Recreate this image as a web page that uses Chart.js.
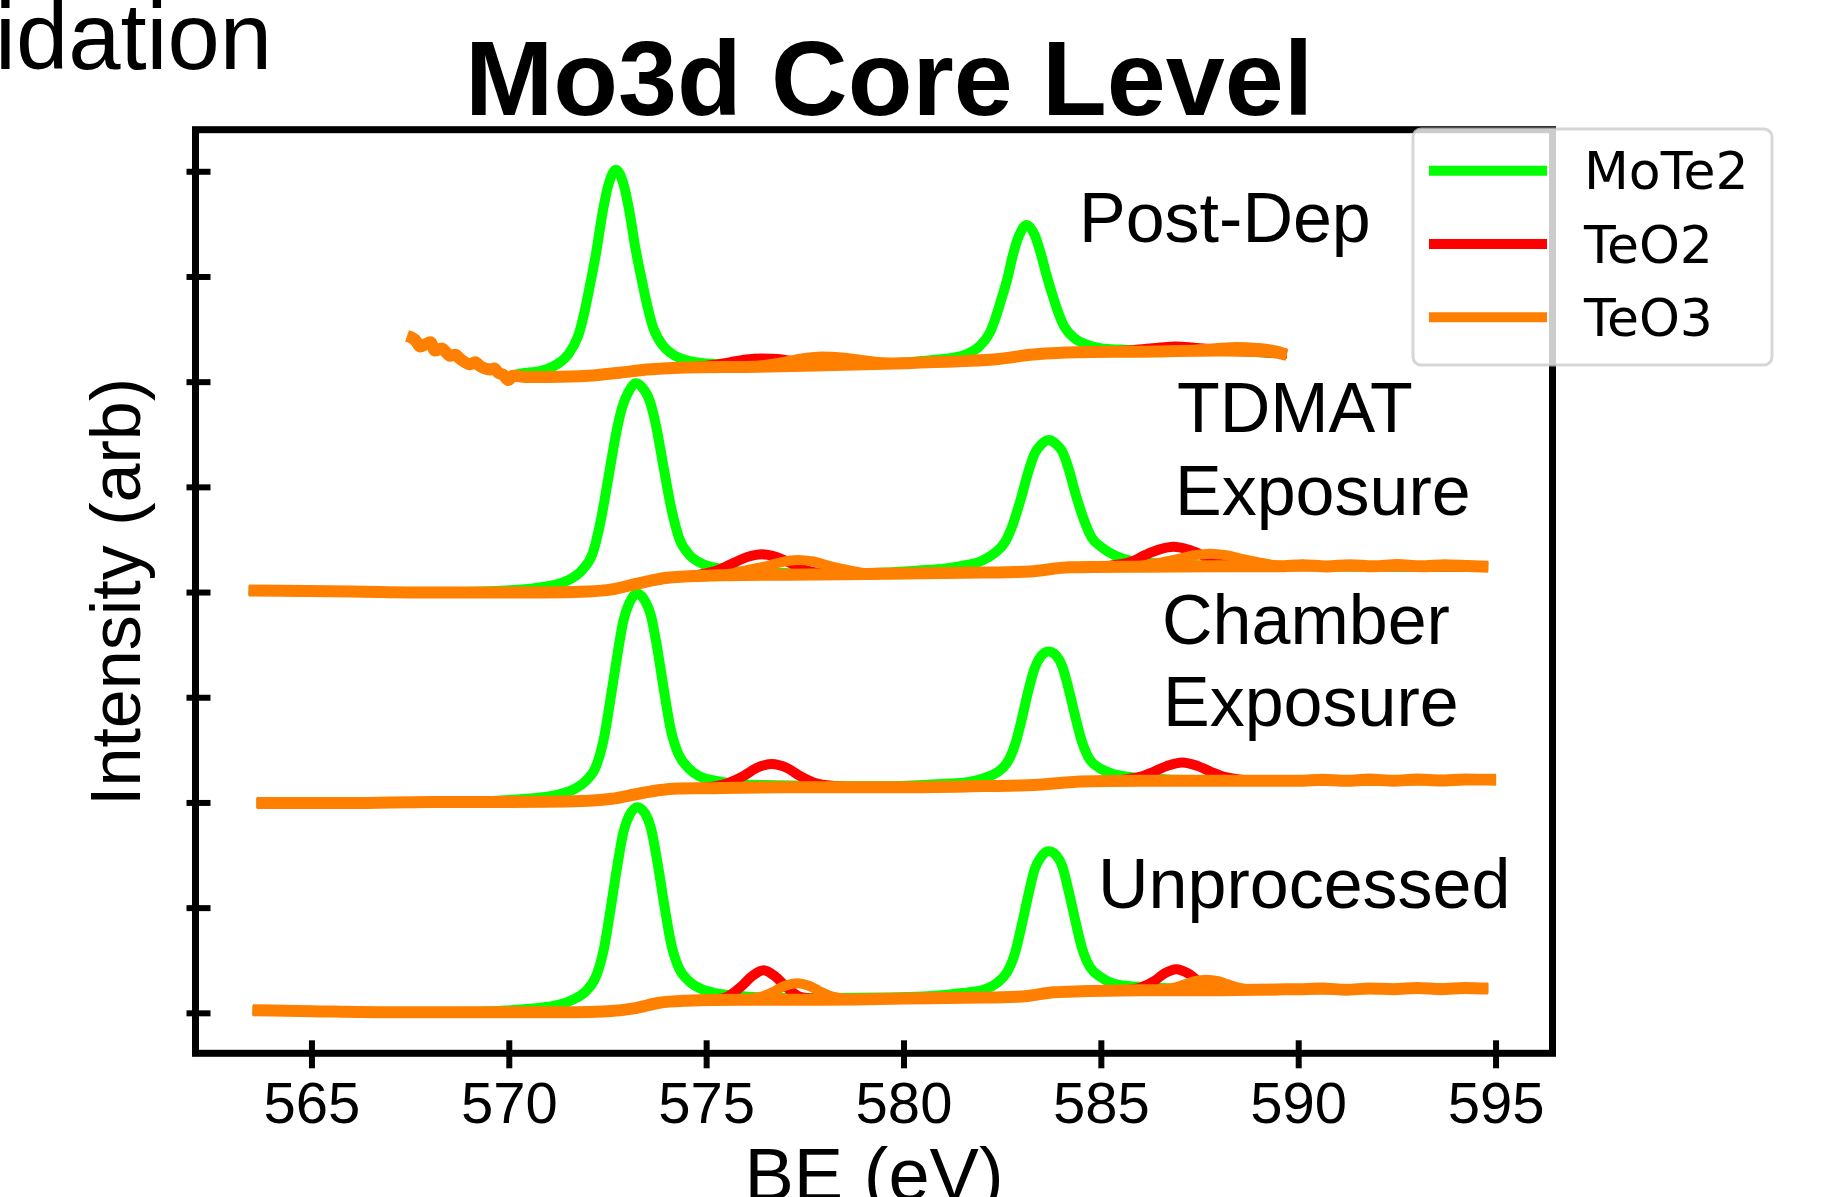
<!DOCTYPE html>
<html>
<head>
<meta charset="utf-8">
<script src="https://cdn.jsdelivr.net/npm/chart.js@4.4.1/dist/chart.umd.min.js"></script>
<style>
html,body{margin:0;padding:0;background:#ffffff;overflow:hidden}
canvas{display:block}
</style>
</head>
<body>
<canvas id="c" width="1825" height="1197"></canvas>
<script>
// ---------------- DATA (BE in eV, intensity in stacked arbitrary units) ----------------
const xTicks = [565, 570, 575, 580, 585, 590, 595];
const yTicks = [0, 1, 2, 3, 4, 5, 6, 7, 8];
const legendLabels = ['MoTe2', 'TeO2', 'TeO3'];
const spectrumNames = ['Post-Dep', 'TDMAT Exposure', 'Chamber Exposure', 'Unprocessed'];

// Unprocessed (bottom trace)
const unprocBackground = [[563.5,0.03],[565,0.02],[567,0.01],[569,0.01],[571,0.01],[572.5,0.02],[573.2,0.05],[573.8,0.10],[574.5,0.12],[576,0.13],[578,0.13],[580,0.14],[582,0.15],[583,0.16],[583.8,0.20],[584.5,0.21],[586,0.22],[588,0.22],[590,0.23],[590.6,0.235],[591.2,0.225],[591.8,0.235],[592.4,0.23],[593,0.24],[593.6,0.23],[594.2,0.24],[594.8,0.235]];
const unprocMoTe2 = [[563.5,0.03],[567,0.01],[569.3,0.015],[570.04,0.03],[570.74,0.05],[571.24,0.08],[571.64,0.135],[571.94,0.21],[572.19,0.345],[572.39,0.60],[572.54,0.93],[572.74,1.41],[572.89,1.72],[573.04,1.88],[573.24,1.96],[573.44,1.90],[573.59,1.76],[573.74,1.465],[573.94,1.00],[574.09,0.68],[574.29,0.435],[574.54,0.31],[574.84,0.235],[575.24,0.19],[575.74,0.17],[576.44,0.15],[578,0.145],[579.5,0.15],[580.46,0.16],[581.16,0.18],[581.66,0.20],[582.06,0.23],[582.36,0.29],[582.61,0.39],[582.81,0.57],[582.96,0.80],[583.16,1.14],[583.31,1.37],[583.46,1.48],[583.66,1.54],[583.86,1.50],[584.01,1.40],[584.16,1.18],[584.36,0.85],[584.51,0.62],[584.71,0.44],[584.96,0.35],[585.26,0.29],[585.66,0.26],[586.16,0.25],[586.86,0.235],[588.5,0.225],[590,0.23],[594.8,0.235]];
const unprocTeO2 = [[563.5,0.03],[567,0.01],[571,0.01],[572.5,0.02],[573.2,0.05],[573.8,0.10],[574.5,0.12],[575.14,0.13],[575.54,0.16],[575.89,0.26],[576.14,0.35],[576.44,0.41],[576.74,0.35],[576.99,0.26],[577.34,0.16],[577.74,0.14],[578.5,0.13],[580,0.14],[582,0.15],[583,0.16],[583.8,0.20],[584.5,0.21],[585.6,0.22],[586.0,0.245],[586.35,0.31],[586.6,0.38],[586.9,0.42],[587.2,0.38],[587.45,0.31],[587.8,0.245],[588.2,0.225],[590,0.23],[594.8,0.235]];
const unprocTeO3 = [[563.5,0.03],[567,0.01],[571,0.01],[572.5,0.02],[573.2,0.05],[573.8,0.10],[574.5,0.12],[575.69,0.13],[576.09,0.138],[576.44,0.164],[576.74,0.215],[576.99,0.262],[577.29,0.285],[577.59,0.262],[577.84,0.215],[578.14,0.164],[578.49,0.138],[578.89,0.13],[580,0.14],[582,0.15],[583,0.16],[583.8,0.20],[584.5,0.21],[586.06,0.22],[586.46,0.225],[586.81,0.242],[587.11,0.275],[587.36,0.305],[587.66,0.32],[587.96,0.305],[588.21,0.275],[588.51,0.242],[588.86,0.225],[589.26,0.22],[590,0.23],[594.8,0.235]];

// Chamber Exposure
const chamberBackground = [[563.6,2.00],[566,2.00],[568,2.01],[570,2.01],[572,2.02],[572.6,2.04],[573.3,2.09],[574,2.13],[575,2.14],[577,2.15],[580,2.15],[582,2.16],[583.3,2.17],[584.3,2.20],[586,2.21],[588,2.21],[590,2.21],[590.6,2.22],[591.2,2.21],[591.8,2.222],[592.4,2.212],[593,2.222],[593.6,2.214],[594.2,2.224],[595,2.22]];
const chamberMoTe2 = [[563.6,2.00],[568,2.01],[569.3,2.015],[570.04,2.03],[570.74,2.05],[571.24,2.08],[571.64,2.13],[571.94,2.21],[572.19,2.34],[572.39,2.60],[572.54,2.93],[572.74,3.41],[572.89,3.73],[573.04,3.90],[573.24,3.99],[573.44,3.92],[573.59,3.78],[573.74,3.49],[573.94,3.02],[574.09,2.70],[574.29,2.46],[574.54,2.33],[574.84,2.25],[575.24,2.21],[575.74,2.18],[576.44,2.17],[578,2.16],[579.5,2.158],[580.46,2.17],[581.16,2.185],[581.66,2.20],[582.06,2.24],[582.36,2.29],[582.61,2.38],[582.81,2.55],[582.96,2.76],[583.16,3.08],[583.31,3.28],[583.46,3.39],[583.66,3.44],[583.86,3.40],[584.01,3.30],[584.16,3.10],[584.36,2.79],[584.51,2.58],[584.71,2.41],[584.96,2.33],[585.26,2.28],[585.66,2.25],[586.16,2.235],[586.86,2.22],[590,2.21],[595,2.22]];
const chamberTeO2 = [[563.6,2.00],[568,2.01],[572,2.02],[572.6,2.04],[573.3,2.09],[574,2.13],[574.55,2.14],[575.05,2.15],[575.55,2.19],[575.95,2.26],[576.25,2.33],[576.65,2.37],[577.05,2.33],[577.35,2.26],[577.75,2.19],[578.25,2.16],[578.75,2.15],[580,2.15],[582,2.16],[583.3,2.17],[584.3,2.20],[584.95,2.205],[585.45,2.217],[585.95,2.245],[586.35,2.30],[586.65,2.35],[587.05,2.385],[587.45,2.35],[587.75,2.30],[588.15,2.245],[588.65,2.217],[589.15,2.21],[592,2.215],[595,2.22]];
const chamberTeO3 = [[563.6,2.00],[568,2.01],[572,2.02],[572.6,2.04],[573.3,2.09],[574,2.13],[575,2.14],[577,2.15],[580,2.15],[582,2.16],[583.3,2.17],[584.3,2.20],[586,2.21],[590,2.21],[595,2.22]];

// TDMAT Exposure
const tdmatBackground = [[563.4,4.02],[566,4.01],[568,4.00],[570,4.00],[572,4.01],[572.6,4.03],[573.3,4.09],[574,4.14],[575,4.16],[577,4.17],[580,4.18],[582,4.19],[583.2,4.20],[584.2,4.24],[586,4.245],[588,4.25],[589.5,4.25],[590.1,4.26],[590.7,4.248],[591.3,4.26],[591.9,4.25],[592.5,4.262],[593.1,4.25],[593.7,4.26],[594.3,4.252],[594.8,4.245]];
const tdmatMoTe2 = [[563.4,4.02],[568,4.00],[569.91,4.02],[570.61,4.04],[571.11,4.07],[571.51,4.12],[571.86,4.22],[572.11,4.37],[572.31,4.67],[572.51,5.09],[572.71,5.52],[572.86,5.76],[573.01,5.90],[573.21,5.99],[573.41,5.93],[573.56,5.82],[573.71,5.60],[573.91,5.19],[574.11,4.79],[574.31,4.51],[574.56,4.36],[574.91,4.27],[575.31,4.23],[575.81,4.20],[576.51,4.19],[578,4.18],[579.5,4.19],[580.36,4.21],[581.06,4.23],[581.56,4.26],[581.96,4.30],[582.31,4.38],[582.56,4.48],[582.76,4.65],[582.96,4.89],[583.16,5.16],[583.31,5.32],[583.46,5.40],[583.66,5.45],[583.86,5.41],[584.01,5.34],[584.16,5.19],[584.36,4.92],[584.56,4.69],[584.76,4.52],[585.01,4.43],[585.36,4.35],[585.76,4.30],[586.26,4.28],[586.96,4.265],[590,4.25],[594.8,4.245]];
const tdmatTeO2 = [[563.4,4.02],[568,4.00],[572,4.01],[572.6,4.03],[573.3,4.09],[574.2,4.145],[574.8,4.17],[575.3,4.215],[575.7,4.285],[576.05,4.34],[576.4,4.365],[576.75,4.34],[577.1,4.285],[577.5,4.215],[578.0,4.18],[578.6,4.17],[580,4.18],[582,4.19],[583.2,4.20],[584.2,4.24],[584.63,4.245],[585.23,4.256],[585.73,4.29],[586.13,4.36],[586.48,4.41],[586.83,4.435],[587.18,4.41],[587.53,4.36],[587.93,4.29],[588.43,4.256],[589.03,4.25],[592,4.25],[594.8,4.245]];
const tdmatTeO3 = [[563.4,4.02],[568,4.00],[572,4.01],[572.6,4.03],[573.3,4.09],[574,4.14],[575.0,4.16],[575.6,4.18],[576.1,4.22],[576.5,4.25],[576.9,4.29],[577.3,4.31],[577.7,4.295],[578.1,4.255],[578.5,4.22],[579.0,4.185],[579.6,4.175],[582,4.19],[583.2,4.20],[584.2,4.24],[585.46,4.245],[586.06,4.257],[586.56,4.29],[586.96,4.32],[587.36,4.355],[587.76,4.37],[588.16,4.355],[588.56,4.32],[588.96,4.29],[589.46,4.257],[590.06,4.25],[592,4.25],[594.8,4.245]];

// Post-Dep (top trace)
const postBackground = [[567.41,6.44],[567.49,6.43],[567.62,6.40],[567.74,6.34],[567.88,6.36],[568.0,6.38],[568.12,6.30],[568.29,6.32],[568.5,6.25],[568.63,6.26],[568.76,6.22],[569.01,6.17],[569.14,6.19],[569.27,6.15],[569.52,6.12],[569.62,6.13],[569.72,6.09],[569.85,6.07],[569.97,6.02],[570.1,6.06],[570.4,6.05],[571,6.05],[572,6.06],[572.8,6.09],[573.5,6.12],[574.5,6.14],[576,6.145],[578,6.16],[580,6.18],[581.5,6.20],[582.4,6.22],[583.2,6.26],[584,6.28],[586,6.29],[588,6.30],[589.3,6.29],[589.7,6.26]];
const postMoTe2 = [[570.0,6.06],[570.3,6.083],[570.8,6.108],[571.2,6.168],[571.5,6.267],[571.75,6.444],[571.9,6.659],[572.05,6.933],[572.2,7.229],[572.35,7.583],[572.5,7.86],[572.7,8.02],[572.9,7.875],[573.05,7.608],[573.2,7.264],[573.35,6.983],[573.5,6.721],[573.65,6.513],[573.9,6.343],[574.2,6.251],[574.6,6.198],[575.1,6.175],[575.7,6.161],[577,6.155],[578.8,6.17],[580.11,6.19],[580.71,6.21],[581.21,6.23],[581.61,6.27],[581.91,6.34],[582.16,6.46],[582.31,6.60],[582.46,6.78],[582.61,6.97],[582.76,7.21],[582.91,7.39],[583.11,7.495],[583.31,7.40],[583.46,7.23],[583.61,7.02],[583.76,6.83],[583.91,6.66],[584.06,6.53],[584.31,6.42],[584.61,6.36],[585.01,6.32],[585.51,6.31],[586.11,6.30],[588,6.30],[589.7,6.27]];
const postTeO2 = [[570.1,6.05],[571,6.05],[572,6.06],[572.8,6.09],[573.5,6.12],[574.7,6.145],[575.2,6.165],[575.6,6.19],[576.0,6.215],[576.4,6.225],[576.8,6.22],[577.2,6.20],[577.6,6.18],[578.1,6.165],[580,6.18],[581.5,6.20],[582.4,6.22],[583.2,6.26],[584,6.28],[585.2,6.29],[585.7,6.30],[586.1,6.315],[586.5,6.33],[586.88,6.34],[587.3,6.33],[587.7,6.315],[588.1,6.30],[588.6,6.295],[589.7,6.27]];
const postTeO3 = [[570.1,6.05],[571,6.05],[572,6.06],[572.8,6.09],[573.5,6.12],[574.5,6.14],[575.82,6.145],[576.42,6.162],[576.92,6.19],[577.42,6.226],[577.92,6.245],[578.42,6.235],[578.92,6.212],[579.42,6.19],[580.02,6.18],[581.5,6.20],[582.4,6.22],[583.2,6.26],[584,6.28],[586.34,6.29],[586.94,6.295],[587.44,6.31],[587.94,6.325],[588.44,6.335],[588.94,6.325],[589.44,6.30],[589.7,6.27]];

// ---------------- STYLE ----------------
const COLOR = { MoTe2: '#00ff00', TeO2: '#ff0000', TeO3: '#ff8000' };

function series(data, color, width, order) {
  return { data: data, borderColor: color, backgroundColor: color, borderWidth: width,
           order: order, fill: false, pointRadius: 0, pointHoverRadius: 0,
           cubicInterpolationMode: 'monotone', borderJoinStyle: 'round', borderCapStyle: 'butt' };
}

const datasets = [];
[[unprocMoTe2, unprocTeO2, unprocTeO3, unprocBackground],
 [chamberMoTe2, chamberTeO2, chamberTeO3, chamberBackground],
 [tdmatMoTe2, tdmatTeO2, tdmatTeO3, tdmatBackground],
 [postMoTe2, postTeO2, postTeO3, postBackground]].forEach(function (s) {
  datasets.push(series(s[0], COLOR.MoTe2, 10, 3));
  datasets.push(series(s[1], COLOR.TeO2, 10, 2));
  datasets.push(series(s[2], COLOR.TeO3, 10, 1));
  datasets.push(series(s[3], COLOR.TeO3, 12, 0));
});

function line(ctx, x1, y1, x2, y2) { ctx.beginPath(); ctx.moveTo(x1, y1); ctx.lineTo(x2, y2); ctx.stroke(); }

const decor = {
  id: 'decor',
  afterDatasetsDraw(chart) {
    const ctx = chart.ctx, a = chart.chartArea, sx = chart.scales.x, sy = chart.scales.y;
    ctx.save();
    ctx.strokeStyle = '#000'; ctx.lineWidth = 7; ctx.lineJoin = 'miter';
    ctx.strokeRect(a.left, a.top, a.right - a.left, a.bottom - a.top);
    ctx.lineWidth = 6; ctx.lineCap = 'butt';
    sy.ticks.forEach(t => { const p = sy.getPixelForValue(t.value); line(ctx, a.left - 9, p, a.left + 15, p); });
    sx.ticks.forEach(t => { const p = sx.getPixelForValue(t.value); line(ctx, p, a.bottom - 13, p, a.bottom + 15); });
    ctx.restore();
  },
  afterDraw(chart) {
    const ctx = chart.ctx;
    ctx.save();
    ctx.fillStyle = '#000';
    ctx.textBaseline = 'alphabetic';
    ctx.textAlign = 'left';
    ctx.font = '94px "Liberation Sans", Arial, sans-serif';
    ctx.fillText('idation', -5, 69);
    ctx.textAlign = 'center';
    ctx.font = 'bold 106px "Liberation Sans", Arial, sans-serif';
    ctx.fillText('Mo3d Core Level', 889, 115);
    ctx.font = '74px "Liberation Sans", Arial, sans-serif';
    ctx.fillText('BE (eV)', 874, 1200);
    ctx.save();
    ctx.translate(140, 592);
    ctx.rotate(-Math.PI / 2);
    ctx.font = '70px "Liberation Sans", Arial, sans-serif';
    ctx.fillText('Intensity (arb)', 0, 0);
    ctx.restore();
    ctx.textAlign = 'left';
    ctx.font = '70px "Liberation Sans", Arial, sans-serif';
    const lab = [
      [spectrumNames[0], 1079, 242],
      ['TDMAT', 1177, 432], ['Exposure', 1175, 515],
      ['Chamber', 1162, 644], ['Exposure', 1163, 726],
      [spectrumNames[3], 1098, 908]
    ];
    lab.forEach(l => ctx.fillText(l[0], l[1], l[2]));

    // legend box
    const bx = 1413, by = 129, bw = 359, bh = 236, r = 8;
    ctx.beginPath();
    ctx.moveTo(bx + r, by);
    ctx.lineTo(bx + bw - r, by); ctx.arcTo(bx + bw, by, bx + bw, by + r, r);
    ctx.lineTo(bx + bw, by + bh - r); ctx.arcTo(bx + bw, by + bh, bx + bw - r, by + bh, r);
    ctx.lineTo(bx + r, by + bh); ctx.arcTo(bx, by + bh, bx, by + bh - r, r);
    ctx.lineTo(bx, by + r); ctx.arcTo(bx, by, bx + r, by, r);
    ctx.closePath();
    ctx.fillStyle = 'rgba(255,255,255,0.8)';
    ctx.fill();
    ctx.strokeStyle = 'rgba(204,204,204,0.8)';
    ctx.lineWidth = 3;
    ctx.stroke();
    const cols = [COLOR.MoTe2, COLOR.TeO2, COLOR.TeO3];
    ctx.font = '52px "DejaVu Sans", sans-serif';
    ctx.lineCap = 'butt';
    legendLabels.forEach((name, i) => {
      const yy = 170.7 + i * 73.3;
      ctx.strokeStyle = cols[i]; ctx.lineWidth = 10;
      line(ctx, 1429, yy, 1547, yy);
      ctx.fillStyle = '#000';
      ctx.fillText(name, 1584, yy + 18.5);
    });
    ctx.restore();
  }
};

new Chart(document.getElementById('c'), {
  type: 'line',
  data: { datasets: datasets },
  options: {
    responsive: false,
    animation: false,
    devicePixelRatio: 1,
    events: [],
    layout: { padding: { left: 0, top: 129.7, right: 272.5, bottom: 0 } },
    plugins: { legend: { display: false }, tooltip: { enabled: false }, title: { display: false } },
    scales: {
      x: {
        type: 'linear', min: 562.05, max: 596.43,
        afterBuildTicks: s => { s.ticks = xTicks.map(v => ({ value: v })); },
        afterFit: s => { s.height = 143.7; },
        grid: { display: false, drawTicks: false },
        border: { display: false },
        ticks: { padding: 25, color: '#000', autoSkip: false, maxRotation: 0,
                 font: { family: '"Liberation Sans", Arial, sans-serif', size: 58, lineHeight: 1 },
                 callback: v => String(v) }
      },
      y: {
        type: 'linear', min: -0.38, max: 8.40,
        afterBuildTicks: s => { s.ticks = yTicks.map(v => ({ value: v })); },
        afterFit: s => { s.width = 195.5; },
        grid: { display: false, drawTicks: false },
        border: { display: false },
        ticks: { display: false }
      }
    }
  },
  plugins: [decor]
});
</script>
</body>
</html>
